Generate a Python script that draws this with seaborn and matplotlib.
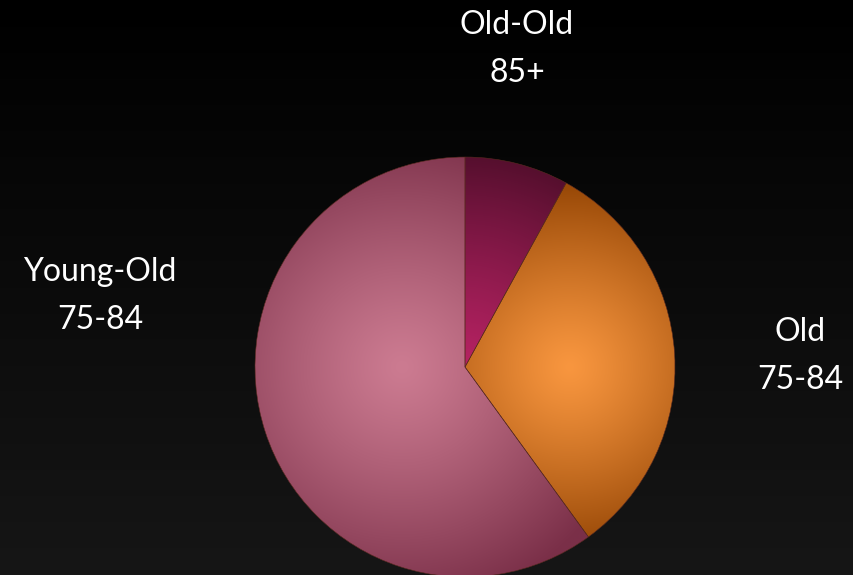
import numpy as np
import matplotlib
matplotlib.use("Agg")
import matplotlib.pyplot as plt
import seaborn as sns

# data
groups = ["Old-Old", "Old", "Young-Old"]
ages = ["85+", "75-84", "75-84"]
shares = [8, 32, 60]

# per-slice radial shading (inner colour, outer colour)
inner_colors = ["#b52262", "#f8963f", "#cc7b91"]
outer_colors = ["#560f2e", "#9a4a08", "#7a2f48"]

sns.set_theme(style="dark")
plt.rcParams["font.family"] = ["Lato", "DejaVu Sans"]

fig = plt.figure(figsize=(8.54, 5.75), dpi=100)

# background: vertical gradient black -> dark grey
bg = fig.add_axes([0, 0, 1, 1])
grad = np.linspace(0x16, 0x00, 256).reshape(-1, 1) / 255.0
bg.imshow(np.dstack([grad, grad, grad]), aspect="auto", extent=[0, 1, 0, 1], origin="lower")
bg.set_axis_off()

ax = fig.add_axes([0.2986, -0.0035, 0.4918, 0.7304])
ax.set_facecolor("none")
wedges, _ = ax.pie(shares, startangle=90, counterclock=False, colors=inner_colors,
                   wedgeprops=dict(linewidth=0.4, edgecolor="#5a2a20"))
ax.set_xlim(-1, 1)
ax.set_ylim(-1, 1)
ax.set_aspect("equal")
ax.set_axis_off()

# gradient centres (data units) and falloff radius for each slice
centres = [(0.0, 0.0), (0.5, 0.0), (-0.3, 0.0)]
falloff = [1.0, 0.85, 1.15]

xs = np.linspace(-1, 1, 400)
X, Y = np.meshgrid(xs, xs)
for w, ic, oc, (cx, cy), R in zip(wedges, inner_colors, outer_colors, centres, falloff):
    t = np.clip(np.hypot(X - cx, Y - cy) / R, 0, 1)[..., None] ** 1.2
    c1 = np.array(matplotlib.colors.to_rgb(ic))
    c2 = np.array(matplotlib.colors.to_rgb(oc))
    img = c1 * (1 - t) + c2 * t
    im = ax.imshow(img, extent=[-1, 1, -1, 1], origin="lower", zorder=2)
    im.set_clip_path(w)
    w.set_zorder(3)
    w.set_facecolor("none")

# labels
label_pos = [(517, 49), (800, 356), (100, 296)]
for g, a, (px, py) in zip(groups, ages, label_pos):
    fig.text(px / 854, 1 - py / 575, g + "\n" + a, color="white", fontsize=23,
             ha="center", va="center", linespacing=1.75)

fig.savefig("out.png", dpi=100, facecolor="black")
